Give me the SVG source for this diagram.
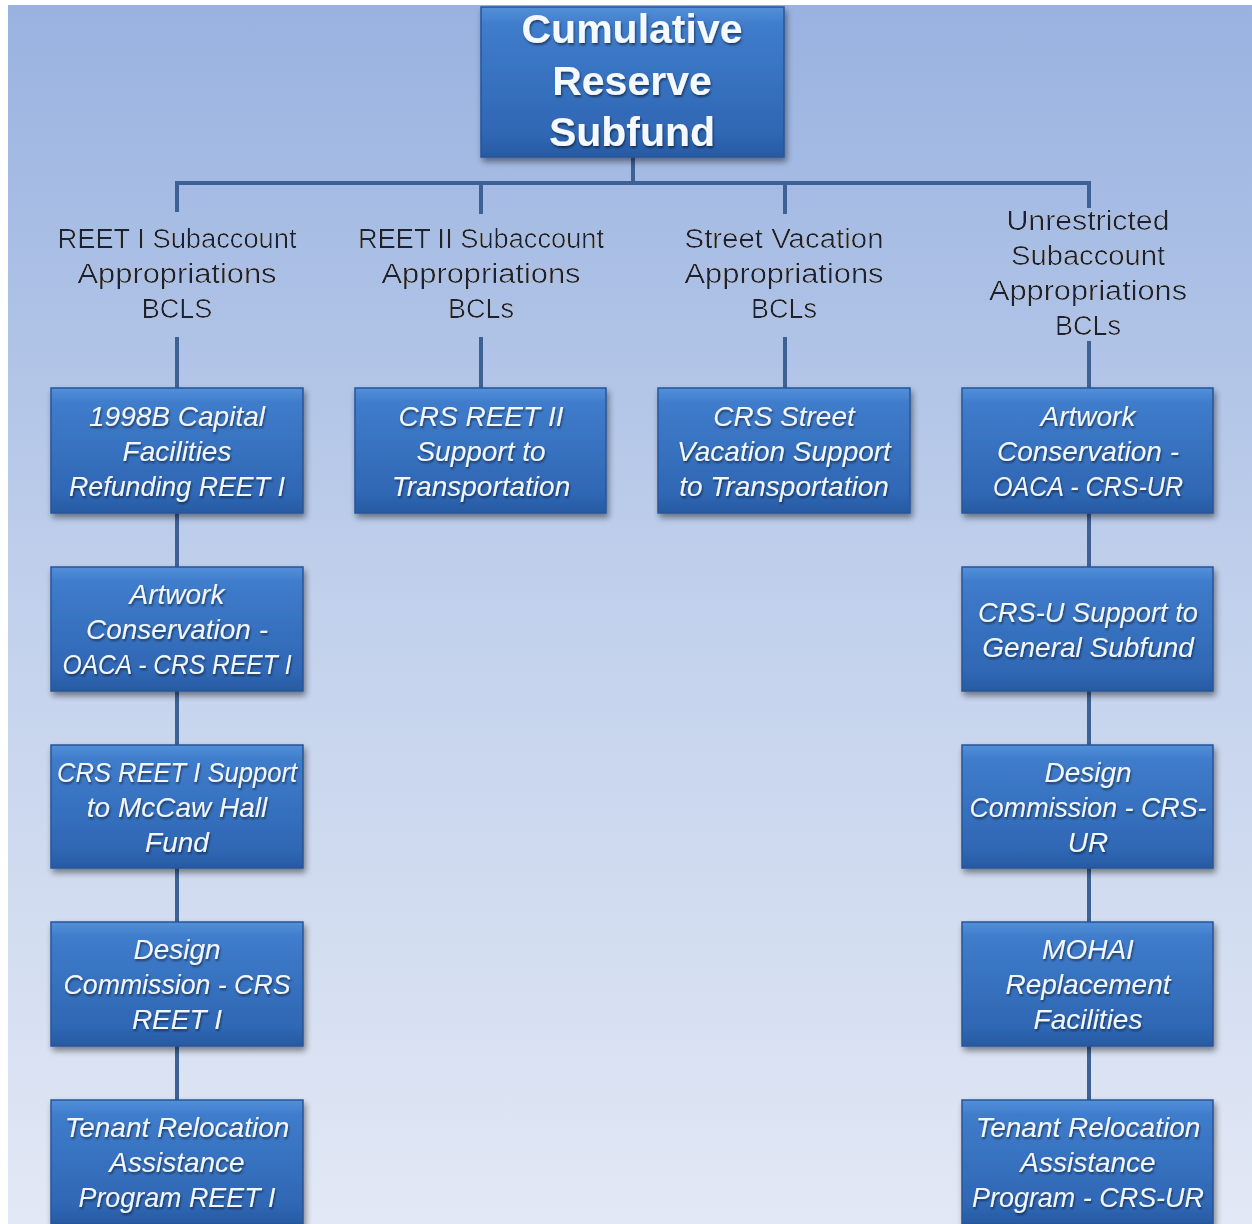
<svg xmlns="http://www.w3.org/2000/svg" width="1252" height="1224" viewBox="0 0 1252 1224">
<defs>
<linearGradient id="bg" x1="0" y1="0" x2="0" y2="1">
<stop offset="0" stop-color="#99b2e0"/>
<stop offset="0.5" stop-color="#c2d1ec"/>
<stop offset="1" stop-color="#e2e8f5"/>
</linearGradient>
<linearGradient id="box" x1="0" y1="0" x2="0" y2="1">
<stop offset="0" stop-color="#5390da"/>
<stop offset="0.12" stop-color="#3f7ccb"/>
<stop offset="0.85" stop-color="#2f67b4"/>
<stop offset="1" stop-color="#275aa2"/>
</linearGradient>
<filter id="sh" x="-10%" y="-10%" width="125%" height="130%">
<feGaussianBlur in="SourceAlpha" stdDeviation="3"/>
<feOffset dx="2" dy="4"/>
<feComponentTransfer><feFuncA type="linear" slope="0.45"/></feComponentTransfer>
<feMerge><feMergeNode/><feMergeNode in="SourceGraphic"/></feMerge>
</filter>
<filter id="glow" x="-10%" y="-20%" width="120%" height="140%">
<feGaussianBlur in="SourceAlpha" stdDeviation="2.5"/>
<feComponentTransfer><feFuncA type="linear" slope="0.9"/></feComponentTransfer>
<feFlood flood-color="#ffffff"/>
<feComposite operator="in" in2="SourceAlpha"/>
<feMerge><feMergeNode/><feMergeNode in="SourceGraphic"/></feMerge>
</filter>
<filter id="tsh" x="-10%" y="-20%" width="120%" height="140%">
<feGaussianBlur in="SourceAlpha" stdDeviation="1.2"/>
<feOffset dx="1" dy="2"/>
<feComponentTransfer><feFuncA type="linear" slope="0.5"/></feComponentTransfer>
<feMerge><feMergeNode/><feMergeNode in="SourceGraphic"/></feMerge>
</filter>
</defs>
<style>
.b{fill:url(#box);stroke:#2a5596;stroke-width:1.5;filter:url(#sh)}
.bt{font-family:"Liberation Sans",Arial,sans-serif;font-style:italic;font-size:28px;fill:#f2f6ff;text-anchor:middle;filter:url(#tsh)}
.tt{font-family:"Liberation Sans",Arial,sans-serif;font-weight:bold;font-size:41px;fill:#f4f8ff;text-anchor:middle;filter:url(#tsh)}
.lb{font-family:"Liberation Sans",Arial,sans-serif;font-size:27px;fill:#1a2032;text-anchor:middle}
.c{stroke:#3d6194;stroke-width:4;fill:none}
</style>
<rect x="8" y="5" width="1244" height="1219" fill="url(#bg)"/>
<g id="connectors">
<path class="c" d="M633 157V183M177 183H1089M177 181V212M481 181V214M785 181V214M1089 181V208"/>
<path class="c" d="M177 337V388M481 337V388M785 337V388M1089 341V388"/>
<path class="c" d="M177 513V567M177 691V745M177 868V922M177 1046V1100"/>
<path class="c" d="M1089 513V567M1089 691V745M1089 868V922M1089 1046V1100"/>
</g>
<g id="root">
<rect class="b" x="481" y="7" width="303" height="150"/>
<text class="tt" x="632" y="43">Cumulative</text>
<text class="tt" x="632" y="95">Reserve</text>
<text class="tt" x="632" y="146">Subfund</text>
</g>
<g id="label1" filter="url(#glow)">
<text class="lb" x="177" y="248" textLength="239" lengthAdjust="spacingAndGlyphs">REET I Subaccount</text>
<text class="lb" x="177" y="283" textLength="199" lengthAdjust="spacingAndGlyphs">Appropriations</text>
<text class="lb" x="177" y="318">BCLS</text>
</g>
<g id="label2" filter="url(#glow)">
<text class="lb" x="481" y="248" textLength="246" lengthAdjust="spacingAndGlyphs">REET II Subaccount</text>
<text class="lb" x="481" y="283" textLength="199" lengthAdjust="spacingAndGlyphs">Appropriations</text>
<text class="lb" x="481" y="318">BCLs</text>
</g>
<g id="label3" filter="url(#glow)">
<text class="lb" x="784" y="248" textLength="199" lengthAdjust="spacingAndGlyphs">Street Vacation</text>
<text class="lb" x="784" y="283" textLength="199" lengthAdjust="spacingAndGlyphs">Appropriations</text>
<text class="lb" x="784" y="318">BCLs</text>
</g>
<g id="label4" filter="url(#glow)">
<text class="lb" x="1088" y="230" textLength="163" lengthAdjust="spacingAndGlyphs">Unrestricted</text>
<text class="lb" x="1088" y="265" textLength="154" lengthAdjust="spacingAndGlyphs">Subaccount</text>
<text class="lb" x="1088" y="300" textLength="198" lengthAdjust="spacingAndGlyphs">Appropriations</text>
<text class="lb" x="1088" y="335">BCLs</text>
</g>
<g id="n1a">
<rect class="b" x="51" y="388" width="252" height="125"/>
<text class="bt" x="177" y="426">1998B Capital</text>
<text class="bt" x="177" y="461">Facilities</text>
<text class="bt" x="177" y="496" textLength="216" lengthAdjust="spacingAndGlyphs">Refunding REET I</text>
</g>
<g id="n1b">
<rect class="b" x="51" y="567" width="252" height="124"/>
<text class="bt" x="177" y="604">Artwork</text>
<text class="bt" x="177" y="639">Conservation -</text>
<text class="bt" x="177" y="674" textLength="229" lengthAdjust="spacingAndGlyphs">OACA - CRS REET I</text>
</g>
<g id="n1c">
<rect class="b" x="51" y="745" width="252" height="123"/>
<text class="bt" x="177" y="782" textLength="240" lengthAdjust="spacingAndGlyphs">CRS REET I Support</text>
<text class="bt" x="177" y="817">to McCaw Hall</text>
<text class="bt" x="177" y="852">Fund</text>
</g>
<g id="n1d">
<rect class="b" x="51" y="922" width="252" height="124"/>
<text class="bt" x="177" y="959">Design</text>
<text class="bt" x="177" y="994" textLength="227" lengthAdjust="spacingAndGlyphs">Commission - CRS</text>
<text class="bt" x="177" y="1029">REET I</text>
</g>
<g id="n1e">
<rect class="b" x="51" y="1100" width="252" height="124"/>
<text class="bt" x="177" y="1137">Tenant Relocation</text>
<text class="bt" x="177" y="1172">Assistance</text>
<text class="bt" x="177" y="1207" textLength="197" lengthAdjust="spacingAndGlyphs">Program REET I</text>
</g>
<g id="n2a">
<rect class="b" x="355" y="388" width="251" height="125"/>
<text class="bt" x="481" y="426">CRS REET II</text>
<text class="bt" x="481" y="461">Support to</text>
<text class="bt" x="481" y="496">Transportation</text>
</g>
<g id="n3a">
<rect class="b" x="658" y="388" width="252" height="125"/>
<text class="bt" x="784" y="426">CRS Street</text>
<text class="bt" x="784" y="461">Vacation Support</text>
<text class="bt" x="784" y="496">to Transportation</text>
</g>
<g id="n4a">
<rect class="b" x="962" y="388" width="251" height="125"/>
<text class="bt" x="1088" y="426">Artwork</text>
<text class="bt" x="1088" y="461">Conservation -</text>
<text class="bt" x="1088" y="496" textLength="190" lengthAdjust="spacingAndGlyphs">OACA - CRS-UR</text>
</g>
<g id="n4b">
<rect class="b" x="962" y="567" width="251" height="124"/>
<text class="bt" x="1088" y="622" textLength="220" lengthAdjust="spacingAndGlyphs">CRS-U Support to</text>
<text class="bt" x="1088" y="657">General Subfund</text>
</g>
<g id="n4c">
<rect class="b" x="962" y="745" width="251" height="123"/>
<text class="bt" x="1088" y="782">Design</text>
<text class="bt" x="1088" y="817" textLength="237" lengthAdjust="spacingAndGlyphs">Commission - CRS-</text>
<text class="bt" x="1088" y="852">UR</text>
</g>
<g id="n4d">
<rect class="b" x="962" y="922" width="251" height="124"/>
<text class="bt" x="1088" y="959">MOHAI</text>
<text class="bt" x="1088" y="994">Replacement</text>
<text class="bt" x="1088" y="1029">Facilities</text>
</g>
<g id="n4e">
<rect class="b" x="962" y="1100" width="251" height="124"/>
<text class="bt" x="1088" y="1137">Tenant Relocation</text>
<text class="bt" x="1088" y="1172">Assistance</text>
<text class="bt" x="1088" y="1207" textLength="232" lengthAdjust="spacingAndGlyphs">Program - CRS-UR</text>
</g>
</svg>
